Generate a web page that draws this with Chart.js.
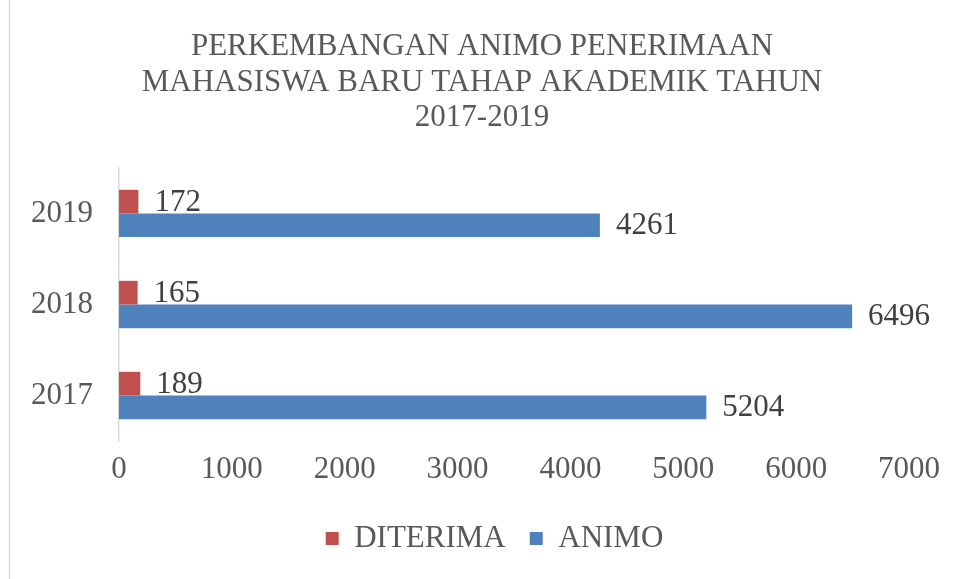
<!DOCTYPE html>
<html><head><meta charset="utf-8">
<script src="https://cdn.jsdelivr.net/npm/chart.js@4/dist/chart.umd.min.js"></script>
<style>html,body{margin:0;padding:0;background:#fff}#wrap{width:964px;height:579px}</style>
</head><body><div id="wrap"><canvas id="c" width="964" height="579"></canvas></div>
<script>
const categories = ['2019', '2018', '2017'];
const diterima = [172, 165, 189];
const animo = [4261, 6496, 5204];
const xTicks = [0, 1000, 2000, 3000, 4000, 5000, 6000, 7000];
const titleLines = ['PERKEMBANGAN ANIMO PENERIMAAN', 'MAHASISWA BARU TAHAP AKADEMIK TAHUN', '2017-2019'];

const FONT = "'Liberation Serif', 'Times New Roman', serif";
const FS = 31;

const labelPlugin = {
  id: 'vals',
  afterDatasetsDraw(chart) {
    const ctx = chart.ctx;
    ctx.save();
    ctx.font = FS + 'px ' + FONT;
    ctx.fillStyle = '#404040';
    ctx.textAlign = 'left';
    ctx.textBaseline = 'middle';
    chart.data.datasets.forEach((ds, i) => {
      chart.getDatasetMeta(i).data.forEach((bar, j) => {
        ctx.fillText(String(ds.data[j]), bar.x + 16, bar.y + 1);
      });
    });
    ctx.restore();
  }
};
const frame = {
  id: 'frame',
  afterLayout(chart) {
    if (chart.titleBlock) { chart.titleBlock.left = 0; chart.titleBlock.right = chart.width; }
    if (chart.legend) { chart.legend.left += 30; chart.legend.right += 30; }
  },
  beforeDraw(chart) {
    const ctx = chart.ctx;
    ctx.save();
    ctx.fillStyle = '#fff';
    ctx.fillRect(0, 0, chart.width, chart.height);
    ctx.strokeStyle = '#d9d9d9';
    ctx.lineWidth = 1.5;
    ctx.beginPath(); ctx.moveTo(9.5, 0); ctx.lineTo(9.5, chart.height); ctx.stroke();
    ctx.restore();
  }
};

new Chart(document.getElementById('c'), {
  type: 'bar',
  data: {
    labels: categories,
    datasets: [
      { label: 'DITERIMA', data: diterima, backgroundColor: '#C0504D' },
      { label: 'ANIMO', data: animo, backgroundColor: '#4F81BD' }
    ]
  },
  options: {
    indexAxis: 'y',
    responsive: false,
    animation: false,
    layout: { padding: { left: 20, right: 55, top: 0, bottom: 15 } },
    datasets: { bar: { categoryPercentage: 0.52, barPercentage: 1.0 } },
    scales: {
      x: {
        min: 0, max: 7000,
        afterBuildTicks(s) { s.ticks = xTicks.map(v => ({ value: v })); },
        grid: { display: false },
        border: { display: false },
        ticks: { color: '#595959', font: { family: FONT, size: FS }, padding: 2, callback: v => String(v) },
        afterFit(s) { s.height = 58; }
      },
      y: {
        grid: { display: true, drawOnChartArea: false, drawTicks: false, color: 'rgba(0,0,0,0)' },
        border: { display: true, color: '#d9d9d9', width: 1.5 },
        ticks: { color: '#595959', font: { family: FONT, size: FS }, padding: 26 },
        afterFit(s) { s.width = 99; }
      }
    },
    plugins: {
      title: {
        display: true,
        text: titleLines,
        color: '#595959',
        font: { family: FONT, size: FS, weight: 'normal', lineHeight: 1.15 },
        padding: { top: 29, bottom: 32 }
      },
      legend: {
        position: 'bottom',
        labels: {
          color: '#595959',
          font: { family: FONT, size: FS },
          boxWidth: 13, boxHeight: 13, padding: 24
        }
      },
      tooltip: { enabled: false }
    }
  },
  plugins: [labelPlugin, frame]
});
</script></body></html>
